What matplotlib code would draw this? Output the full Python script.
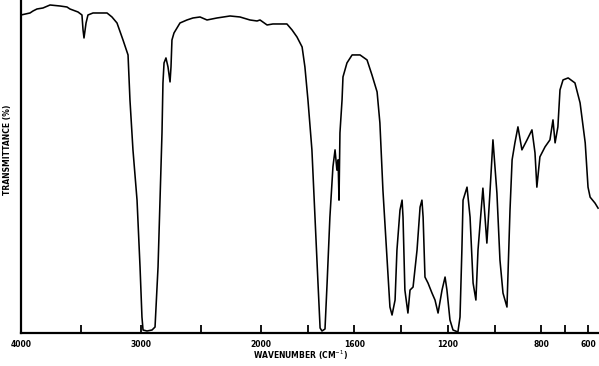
import numpy as np
import matplotlib
matplotlib.use("Agg")
import matplotlib.pyplot as plt

# Wavenumbers (cm-1) and transmittance (%)
wavenumber = [4000, 3925, 3900, 3867, 3817, 3758, 3675, 3617, 3592, 3525, 3492, 3483, 3475, 3458,
              3442, 3400, 3283, 3242, 3200, 3150, 3108, 3092, 3067, 3033, 3008, 2992, 2983, 2950,
              2908, 2883, 2858, 2842, 2825, 2817, 2808, 2792, 2775, 2758, 2750, 2742, 2725, 2675,
              2617, 2567, 2508, 2450, 2367, 2258, 2175, 2092, 2033, 2008, 1974, 1949, 1889, 1867,
              1846, 1833, 1824, 1812, 1799, 1782, 1769, 1756, 1747, 1739, 1726, 1717, 1705, 1692,
              1683, 1675, 1670, 1666, 1662, 1653, 1649, 1632, 1610,
              1576, 1546, 1525, 1503, 1491, 1478, 1461,
              1448, 1439, 1426, 1418, 1405, 1396, 1392, 1384, 1371, 1362, 1349, 1332, 1319, 1311,
              1306, 1298, 1285, 1268, 1255, 1242, 1225, 1212, 1204, 1191, 1178, 1157, 1148, 1140,
              1135, 1118, 1105, 1092, 1080, 1071, 1054, 1050, 1033, 1020, 1007, 990, 977, 964,
              947, 934, 925, 913, 900, 883, 861, 840, 827, 819, 806, 784, 763, 750, 741, 729, 720,
              707, 685, 656, 634, 612, 600, 591, 570, 557]
transmittance = [95.5, 96.1, 96.7, 97.3, 97.6, 98.5, 98.2, 97.9, 97.3, 96.4, 95.5, 91.0, 88.6, 93.1,
                 95.5, 96.1, 96.1, 94.9, 93.1, 88.0, 83.5, 70.0, 55.0, 39.9, 19.8, 4.8, 0.9, 0.6,
                 0.9, 1.8, 19.8, 39.9, 60.1, 75.1, 81.1, 82.6, 79.9, 75.4, 79.9, 88.0, 90.1, 93.1,
                 94.0, 94.6, 94.9, 94.0, 94.6, 95.2, 94.9, 94.0, 93.7, 94.0, 92.5, 92.8, 92.8, 91.0,
                 88.9, 87.1, 85.9, 79.9, 70.0, 55.0, 34.8, 15.0, 1.5, 0.6, 1.2, 15.0, 34.8, 49.9,
                 55.0, 48.9, 52.0, 39.9, 60.1, 70.0, 76.9, 81.1, 83.5,
                 83.5, 82.0, 77.5, 72.4, 63.1, 42.9, 22.8,
                 7.8, 5.4, 9.9, 24.9, 36.9, 39.9, 34.8, 12.9, 6.0, 12.9, 13.8, 24.9, 37.8, 39.9,
                 34.8, 16.8, 15.0, 12.0, 9.9, 6.0, 12.9, 16.8, 12.9, 3.9, 0.9, 0.3, 4.8, 24.9,
                 39.9, 43.8, 34.8, 15.0, 9.9, 24.9, 39.9, 43.5, 27.0, 42.0, 58.0, 42.0, 21.9, 12.0,
                 7.8, 36.9, 52.0, 57.1, 61.9, 55.0, 58.0, 61.0, 54.1, 43.8, 52.9, 55.9, 58.0, 64.0,
                 57.1, 61.9, 73.0, 76.0, 76.6, 75.1, 69.1, 57.1, 43.8, 40.8, 39.0, 37.5]

tick_values = [4000, 3500, 3000, 2500, 2000, 1800, 1600, 1400, 1200, 1000, 800, 700, 600]
tick_labels = ["4000", "", "3000", "", "2000", "", "1600", "", "1200", "", "800", "", "600"]

# IR chart paper: scale halves above 2000 cm-1
RATIO = 0.5137


def fwd(w):
    w = np.asarray(w, dtype=float)
    return np.where(w <= 2000, w, 2000 + (w - 2000) * RATIO)


def inv(u):
    u = np.asarray(u, dtype=float)
    return np.where(u <= 2000, u, 2000 + (u - 2000) / RATIO)


fig = plt.figure(figsize=(5.99, 3.66), dpi=100)
ax = fig.add_axes([21 / 599, 33 / 366, 1 - 21 / 599, 1 - 33 / 366])
ax.set_xscale("function", functions=(fwd, inv))
ax.plot(wavenumber, transmittance, color="black", lw=1.15, solid_joinstyle="round")
ax.set_xlim(4000, 553)
ax.set_ylim(0, 100)

for s in ["top", "right"]:
    ax.spines[s].set_visible(False)
ax.spines["left"].set_linewidth(1.6)
ax.spines["bottom"].set_linewidth(1.6)

ax.set_xticks(tick_values)
ax.set_xticklabels(tick_labels)
ax.xaxis.set_minor_locator(matplotlib.ticker.NullLocator())
ax.tick_params(axis="x", direction="in", length=6, width=1.3, pad=5,
               labelsize=5.5)
for lab in ax.get_xticklabels():
    lab.set_fontweight("bold")
ax.set_yticks([])

fig.text(300 / 599, 1 - 355 / 366, "WAVENUMBER (CM$^{-1}$)", ha="center", va="center",
         fontsize=5.5, fontweight="bold")
fig.text(8 / 599, 1 - 150 / 366, "TRANSMITTANCE (%)", ha="center", va="center",
         rotation=90, fontsize=5.5, fontweight="bold")

fig.savefig("out.png", dpi=100)
